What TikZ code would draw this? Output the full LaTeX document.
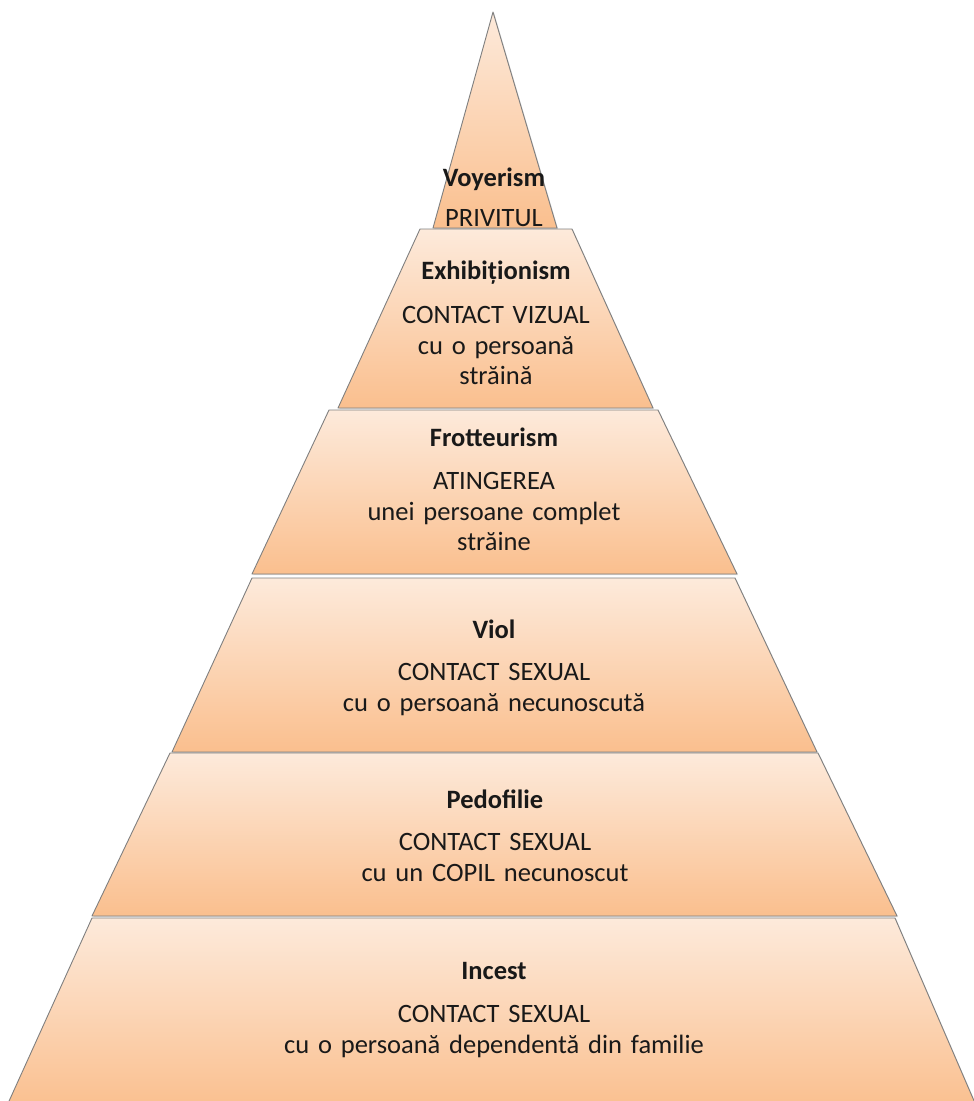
\documentclass[tikz,border=0pt]{standalone}
\usepackage{fontspec}
\setmainfont{Carlito}
\usetikzlibrary{shadows}
\definecolor{pyrtop}{HTML}{FDEADB}
\definecolor{pyrbot}{HTML}{FABF8E}
\definecolor{pyredge}{HTML}{7F7F7F}
\tikzset{
  layer/.style={draw=pyredge, line width=0.9pt, line join=round,
    top color=pyrtop, bottom color=pyrbot,
    drop shadow={shadow xshift=1.2pt, shadow yshift=-1.2pt, opacity=0.25}},
  label/.style={anchor=base, align=center, text width=520pt, inner sep=0pt,
    font=\fontsize{26.5}{30.5}\selectfont, text=black!90}
}
\begin{document}
\begin{tikzpicture}[x=1pt,y=-1pt]
\useasboundingbox (0,0) rectangle (974,1101);
\clip (0,0) rectangle (974,1101);
% layers, top to bottom
\path[layer] (493,12) -- (557,228) -- (433,228) -- cycle;
\node[label] (voy) at (494,186) {\textbf{Voyerism}\\[10pt]PRIVITUL};
\path[layer] (420,229) -- (572,229) -- (653,408) -- (338,408) -- cycle;
\node[label] (exh) at (496,279) {\textbf{Exhibiționism}\\[14pt]CONTACT VIZUAL\\cu o persoană\\străină};
\path[layer] (329,410) -- (658,410) -- (737,574) -- (252,574) -- cycle;
\node[label] (fro) at (494,446) {\textbf{Frotteurism}\\[13pt]ATINGEREA\\unei persoane complet\\străine};
\path[layer] (252,578) -- (735,578) -- (817,752) -- (172,752) -- cycle;
\node[label] (vio) at (494,638) {\textbf{Viol}\\[12pt]CONTACT SEXUAL\\cu o persoană necunoscută};
\path[layer] (170,753) -- (818,753) -- (897,916) -- (92,916) -- cycle;
\node[label] (ped) at (495,808) {\textbf{Pedofilie}\\[12pt]CONTACT SEXUAL\\cu un COPIL necunoscut};
\path[layer] (92,918) -- (895,918) -- (978,1110) -- (5,1110) -- cycle;
\node[label] (inc) at (494,979) {\textbf{Incest}\\[13pt]CONTACT SEXUAL\\cu o persoană dependentă din familie};
\end{tikzpicture}
\end{document}
